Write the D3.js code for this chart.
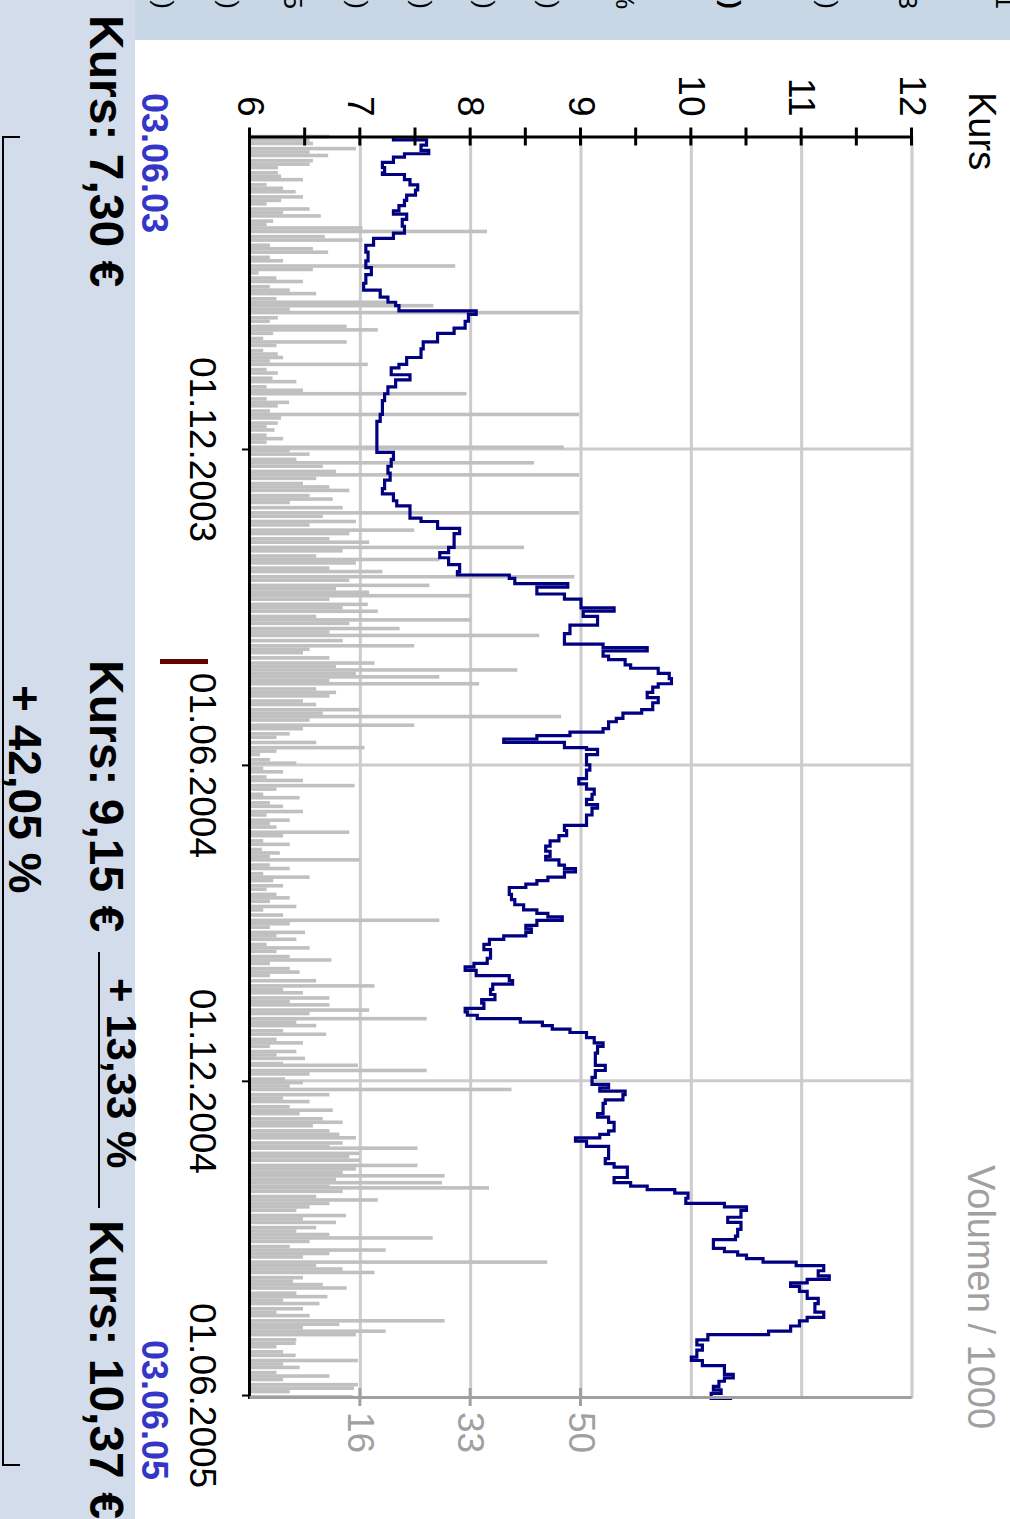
<!DOCTYPE html>
<html>
<head>
<meta charset="utf-8">
<script src="https://cdn.jsdelivr.net/npm/d3@7"></script>
<style>
  body { margin: 0; background: #fff; }
  svg { display: block; }
</style>
</head>
<body>
<div id="chart"></div>
<script>
// --- Daten ---
const startDatum = "03.06.2003"
const endDatum = "03.06.2005"

// [Tage seit Start, Kurs in €]
const kurs = [
  [0,7.30],[2,7.6],[5,7.55],[8,7.62],[10,7.4],[12,7.3],[15,7.2],[18,7.22],[21,7.2],[22,7.4],
  [25,7.45],[28,7.52],[31,7.5],[34,7.42],[37,7.4],[40,7.35],[43,7.3],[45,7.42],[48,7.38],[52,7.4],
  [56,7.3],[59,7.12],[63,7.05],[67,7.07],[72,7.05],[76,7.1],[80,7.05],[85,7.03],[89,7.18],[93,7.25],
  [96,7.32],[98,7.35],[101,8.05],[103,7.98],[107,7.95],[111,7.85],[114,7.7],[119,7.57],[123,7.55],[125,7.55],
  [128,7.42],[132,7.35],[134,7.28],[138,7.45],[141,7.32],[145,7.25],[149,7.22],[153,7.2],[157,7.2],[161,7.18],
  [165,7.15],[170,7.15],[175,7.15],[179,7.15],[183,7.3],[187,7.28],[191,7.25],[195,7.27],[199,7.22],[204,7.2],
  [207,7.3],[211,7.33],[214,7.45],[218,7.45],[221,7.55],[223,7.7],[227,7.9],[230,7.85],[234,7.85],[238,7.8],
  [241,7.72],[244,7.8],[248,7.9],[252,7.88],[254,8.35],[256,8.4],[259,8.88],[261,8.6],[264,8.6],[265,8.85],
  [268,9.0],[271,9.0],[273,9.3],[275,9.02],[278,9.15],[281,9.15],[283,8.9],[288,8.85],[292,8.85],[294,9.2],
  [296,9.6],[298,9.2],[301,9.25],[303,9.4],[306,9.45],[308,9.7],[311,9.8],[314,9.82],[317,9.7],[319,9.65],
  [322,9.6],[325,9.7],[328,9.65],[332,9.55],[334,9.38],[337,9.32],[339,9.25],[343,9.2],[345,8.9],[347,8.6],
  [349,8.3],[351,8.85],[354,9.05],[355,9.15],[358,9.05],[361,9.05],[364,9.08],[367,9.05],[370,9.05],[372,8.98],
  [375,9.05],[378,9.12],[381,9.1],[384,9.05],[387,9.15],[389,9.1],[393,9.05],[396,9.05],[399,8.85],[402,8.87],
  [405,8.8],[408,8.72],[411,8.68],[414,8.72],[417,8.68],[419,8.8],[422,8.85],[424,8.95],[426,8.85],[429,8.7],
  [431,8.6],[433,8.5],[435,8.35],[439,8.37],[442,8.4],[445,8.48],[448,8.6],[450,8.7],[452,8.83],[454,8.6],
  [457,8.5],[459,8.55],[461,8.5],[463,8.3],[465,8.17],[468,8.12],[471,8.18],[474,8.18],[476,8.15],[479,8.03],
  [481,7.95],[483,8.05],[486,8.35],[489,8.38],[491,8.2],[494,8.18],[497,8.22],[500,8.1],[502,8.12],[505,7.95],
  [507,7.97],[509,8.06],[511,8.45],[513,8.65],[515,8.74],[517,8.9],[519,9.05],[522,9.12],[523,9.12],[525,9.2],
  [527,9.15],[531,9.13],[535,9.13],[538,9.22],[541,9.13],[545,9.1],[546,9.1],[549,9.25],[551,9.17],[553,9.4],
  [555,9.38],[558,9.22],[560,9.2],[563,9.2],[566,9.15],[568,9.25],[571,9.3],[574,9.3],[576,9.25],[578,9.17],
  [580,8.95],[582,9.05],[585,9.25],[589,9.25],[592,9.22],[595,9.3],[597,9.42],[600,9.42],[603,9.3],[606,9.45],
  [608,9.6],[610,9.85],[612,9.97],[615,9.95],[618,10.3],[620,10.5],[622,10.45],[626,10.33],[629,10.45],[633,10.42],
  [637,10.4],[639,10.2],[642,10.2],[644,10.3],[646,10.42],[648,10.5],[650,10.65],[652,10.95],[654,11.2],[657,11.15],
  [660,11.25],[662,11.05],[664,10.9],[666,10.98],[669,11.05],[673,11.15],[676,11.12],[679,11.12],[681,11.2],[684,11.05],
  [686,10.98],[689,10.9],[692,10.7],[694,10.15],[697,10.05],[700,10.1],[703,10.05],[707,10.0],[709,10.1],[712,10.3],
  [715,10.3],[717,10.38],[719,10.3],[721,10.25],[724,10.2],[726,10.27],[728,10.18],[731,10.37]
]

// [Tage seit Start, Volumen / 1000]
const volumen = [
  [0,12],[2,9],[4,9.5],[7,16],[9,9],[11,11.8],[14,9.5],[16,9],[18,4.2],[21,4.2],[23,4.7],[25,8],[28,2.5],[30,5],
  [32,6.9],[35,8],[37,4.7],[39,2.5],[42,9],[44,5],[46,10.7],[49,3.5],[51,2.5],[53,17],[55,35.8],[58,11.3],[60,17],
  [63,3],[65,9.5],[67,11.8],[70,3],[72,5],[75,31],[77,9.5],[79,1.3],[82,4],[84,8],[87,3],[89,6],[91,10],[94,4],
  [96,20.6],[98,27.7],[100,6],[102,49.7],[105,4.2],[107,3],[110,14.6],[112,19.3],[114,3.5],[117,2],[119,14.6],
  [121,4],[124,2],[126,4.2],[128,5],[130,3],[132,17.8],[135,2.5],[137,4.2],[140,3.4],[142,7],[145,2.5],[147,8],
  [149,32.7],[152,2.5],[154,5.9],[156,4.2],[159,3],[161,49.7],[163,4.7],[166,4.2],[168,2.5],[170,3.7],[173,2.5],
  [175,5],[177,2.5],[180,47.4],[182,6],[184,9],[187,7],[189,42.9],[191,11],[194,13],[196,49.7],[198,10],[201,8],
  [203,12],[205,15],[208,9],[210,12.5],[212,6],[215,14],[218,49.7],[220,11],[223,16],[225,9],[228,24.8],[230,15],
  [233,12],[235,18],[238,41.4],[240,14],[243,10],[245,28.6],[247,16],[250,12],[252,20],[255,49],[257,15],
  [260,27.1],[262,13],[264,18],[266,33.4],[268,12],[271,17.8],[273,14],[275,19.3],[278,10],[280,33.4],[282,15],
  [285,22.6],[287,12],[289,43.7],[292,14],[295,24.8],[297,9],[299,8],[302,12],[305,18.8],[307,13],[309,40.4],
  [311,16],[313,28.6],[315,12],[317,34.6],[320,10],[322,13],[324,12],[327,8],[329,10],[332,16.6],[334,11],
  [336,47],[338,9],[341,24.8],[343,8],[346,6],[348,4],[351,10],[354,17.3],[356,4],[358,1.5],[361,3],[363,7],
  [366,2],[368,5],[371,2.5],[373,8],[376,15.8],[378,4],[381,2],[383,7.5],[386,3],[388,5],[391,8],[393,2.5],
  [396,6],[398,3],[400,4],[403,15],[405,5],[408,2],[410,6],[413,1.8],[415,4.5],[417,3],[419,16.6],[422,3],
  [424,6],[427,2],[429,9],[431,3.5],[434,5],[436,2.5],[439,4],[441,6],[443,3],[446,7],[448,2],[451,5],
  [454,28.6],[456,6],[458,3],[461,8.3],[463,4],[465,7],[468,2.5],[470,9],[472,4],[475,6],[477,12.3],[479,3],
  [482,6],[484,7.5],[486,3],[489,10],[492,18.8],[494,5],[496,8],[499,12],[501,6],[503,12],[506,18],[508,9],
  [511,26.7],[513,7],[515,10],[518,5],[520,11.5],[523,4],[525,8],[527,3],[530,7],[532,4],[534,8.3],[537,5],
  [538,16.3],[541,26.7],[543,9],[546,5.3],[548,8],[550,6],[552,39.5],[555,12],[557,5],[559,9],[562,6],
  [564,12.5],[566,7.5],[569,11],[571,14],[573,9.5],[576,12],[578,13.5],[580,16],[583,14],[585,12],[586,25.3],
  [589,16.5],[591,15],[593,16.6],[596,25.3],[598,16],[600,14],[602,29.4],[604,13],[606,29],[608,12],[609,36.1],
  [611,14],[614,10],[616,19.3],[618,12],[620,9],[622,7],[625,14.5],[627,8],[629,13],[632,10],[634,7],[636,12],
  [638,27.6],[640,9],[643,6],[645,20.5],[647,12],[649,8],[652,44.9],[654,10],[656,14],[658,18.8],[661,8],
  [663,6.5],[665,11],[667,14.6],[670,7],[672,11.7],[674,5],[676,10.5],[679,8],[681,4],[683,9],[686,29.4],
  [688,13.5],[690,8],[692,20.5],[694,16],[697,7],[699,6.9],[701,4],[704,5],[706,6.9],[709,16.3],[711,5],
  [713,7.5],[716,4],[718,12],[720,5],[723,16.3],[725,15.7],[727,6],[730,15.5]
]

const kursTicks = [6, 6.5, 7, 7.5, 8, 8.5, 9, 9.5, 10, 10.5, 11, 11.5, 12]
const kursGitter = [7, 8, 9, 10, 11, 12]
const datumTicks = ["01.12.2003", "01.06.2004", "01.12.2004", "01.06.2005"]
const volTicks = [16.67, 33.33, 50]

const eckKurse = [7.30, 9.15, 10.37]
const eckDaten = ["03.06.03", "03.06.05"]
const veraenderung = [13.33, 42.05]

// abgeschnittene Tabellenzeilen am Rand
const tabelle = ["Eröffnung (€)", "Tageshoch (€)", "Stück: 5", "Tagestief (€)", "Schluss (€)",
  "Vortag (€)", "52W-Hoch (€)", "Perf. %", "Kurs (€)", "(1 J.)", "Rang: 3", "Nr. 1"]
const tabelleV = [846, 781, 717, 652, 588, 525, 461, 385, 279, 182, 102, 5]

// --- Zeichnen ---
const parseDatum = d3.timeParse("%d.%m.%Y")
const start = parseDatum(startDatum)
const ende = parseDatum(endDatum)
const de = d3.formatLocale({ decimal: ",", thousands: ".", grouping: [3], currency: ["", " €"] })
const fmt2 = de.format(".2f")
const font = "'Liberation Sans', Arial, sans-serif"

// chart is laid out unrotated (1519 x 1010) and turned 90° clockwise
const W = 1519, H = 1010
const svg = d3.select("#chart").append("svg")
  .attr("width", 1010)
  .attr("height", 1519)
const g = svg.append("g").attr("transform", "translate(1010,0) rotate(90)")

// bands
g.append("rect").attr("x", 0).attr("y", 875).attr("width", W).attr("height", H - 875).attr("fill", "#d2dcea")
g.append("rect").attr("x", 0).attr("y", 0).attr("width", 40).attr("height", 875).attr("fill", "#c7d7e6")

g.selectAll(".tab").data(tabelle).enter().append("text")
  .attr("class", "tab")
  .attr("x", 9)
  .attr("y", (d, i) => tabelleV[i])
  .attr("text-anchor", "end")
  .attr("dominant-baseline", "central")
  .style("font-family", font)
  .style("font-size", "26px")
  .style("font-weight", (d, i) => i === 8 ? "bold" : "normal")
  .text(d => d)

const x = d3.scaleTime().domain([start, ende]).range([136.5, 1398.5])
const yKurs = d3.scaleLinear().domain([6, 12]).range([760, 98])
const yVol = d3.scaleLinear().domain([0, 100]).range([760, 98])
const tag = t => d3.timeDay.offset(start, t)

// grid
g.selectAll(".gy").data(kursGitter).enter().append("line")
  .attr("x1", x(start)).attr("x2", x(ende))
  .attr("y1", d => yKurs(d)).attr("y2", d => yKurs(d))
  .attr("stroke", "#cccccc").attr("stroke-width", 3)

g.selectAll(".gx").data(datumTicks.slice(0, 3)).enter().append("line")
  .attr("x1", d => x(parseDatum(d))).attr("x2", d => x(parseDatum(d)))
  .attr("y1", yKurs(6)).attr("y2", yKurs(12))
  .attr("stroke", "#cccccc").attr("stroke-width", 3)

// volume bars
g.selectAll(".vol").data(volumen).enter().append("rect")
  .attr("x", d => x(tag(d[0])) - 1.8)
  .attr("width", 3.6)
  .attr("y", d => yVol(d[1]))
  .attr("height", d => yVol(0) - yVol(d[1]))
  .attr("fill", "#c0c0c0")

// price line
const line = d3.line()
  .x(d => x(tag(d[0])))
  .y(d => yKurs(d[1]))
  .curve(d3.curveStepAfter)

g.append("path").datum(kurs)
  .attr("d", line)
  .attr("fill", "none")
  .attr("stroke", "#000080")
  .attr("stroke-width", 3.2)

// price axis
const axKurs = g.append("g")
  .attr("transform", `translate(${x(start)},0)`)
  .call(d3.axisLeft(yKurs).tickValues(kursTicks).tickSize(9).tickSizeOuter(0).tickPadding(11)
    .tickFormat(d => Number.isInteger(d) ? d : ""))
axKurs.select(".domain").attr("stroke", "#000").attr("stroke-width", 3)
axKurs.selectAll(".tick line").attr("x1", 9).attr("stroke", "#000").attr("stroke-width", 3)
axKurs.selectAll("text").style("font-family", font).style("font-size", "37px").attr("fill", "#000")

// time axis
const axZeit = g.append("g")
  .attr("transform", `translate(0,${yKurs(6)})`)
  .call(d3.axisBottom(x).tickValues(datumTicks.map(parseDatum)).tickSize(8).tickSizeOuter(0).tickPadding(26)
    .tickFormat(d3.timeFormat("%d.%m.%Y")))
axZeit.select(".domain").attr("stroke", "#000").attr("stroke-width", 3)
axZeit.selectAll(".tick line").attr("stroke", "#000").attr("stroke-width", 2)
axZeit.selectAll("text").style("font-family", font).style("font-size", "37px").attr("fill", "#000")

// volume axis
const axVol = g.append("g")
  .attr("transform", `translate(${x(ende) - 1.5},0)`)
  .call(d3.axisRight(yVol).tickValues(volTicks).tickSize(9).tickSizeOuter(0).tickPadding(6)
    .tickFormat(d => Math.floor(d)))
axVol.select(".domain").attr("stroke", "#a0a0a0").attr("stroke-width", 3)
axVol.selectAll(".tick line").attr("x1", -9).attr("stroke", "#a0a0a0").attr("stroke-width", 3)
axVol.selectAll("text").style("font-family", font).style("font-size", "37px").attr("fill", "#a0a0a0")

// axis titles
g.append("text").attr("x", 92).attr("y", 41)
  .style("font-family", font).style("font-size", "38px").attr("fill", "#000")
  .text("Kurs")
g.append("text").attr("x", 1165).attr("y", 42)
  .style("font-family", font).style("font-size", "38px").attr("fill", "#a0a0a0")
  .text("Volumen / 1000")

// marker
g.append("rect").attr("x", 659).attr("y", 802).attr("width", 5).attr("height", 48).attr("fill", "#660000")

// band texts
const kursU = [15, 660, 1220]
g.selectAll(".eck").data(eckKurse).enter().append("text")
  .attr("x", (d, i) => kursU[i]).attr("y", 920)
  .style("font-family", font).style("font-size", "48px").style("font-weight", "bold").attr("fill", "#000")
  .text(d => `Kurs: ${fmt2(d)} €`)

const datumU = [93, 1340]
g.selectAll(".eckd").data(eckDaten).enter().append("text")
  .attr("x", (d, i) => datumU[i]).attr("y", 868)
  .style("font-family", font).style("font-size", "36px").style("font-weight", "bold").attr("fill", "#3535c8")
  .text(d => d)

g.append("text").attr("x", 978).attr("y", 903)
  .style("font-family", font).style("font-size", "42px").style("font-weight", "bold").attr("fill", "#000")
  .text(`+ ${fmt2(veraenderung[0])} %`)
g.append("line").attr("x1", 952).attr("x2", 1208).attr("y1", 911).attr("y2", 911)
  .attr("stroke", "#000").attr("stroke-width", 2)

g.append("text").attr("x", 685).attr("y", 1001)
  .style("font-family", font).style("font-size", "46px").style("font-weight", "bold").attr("fill", "#000")
  .text(`+ ${fmt2(veraenderung[1])} %`)
g.append("path")
  .attr("d", "M137,990V1007H1465V990")
  .attr("fill", "none").attr("stroke", "#000").attr("stroke-width", 2)
</script>
</body>
</html>
